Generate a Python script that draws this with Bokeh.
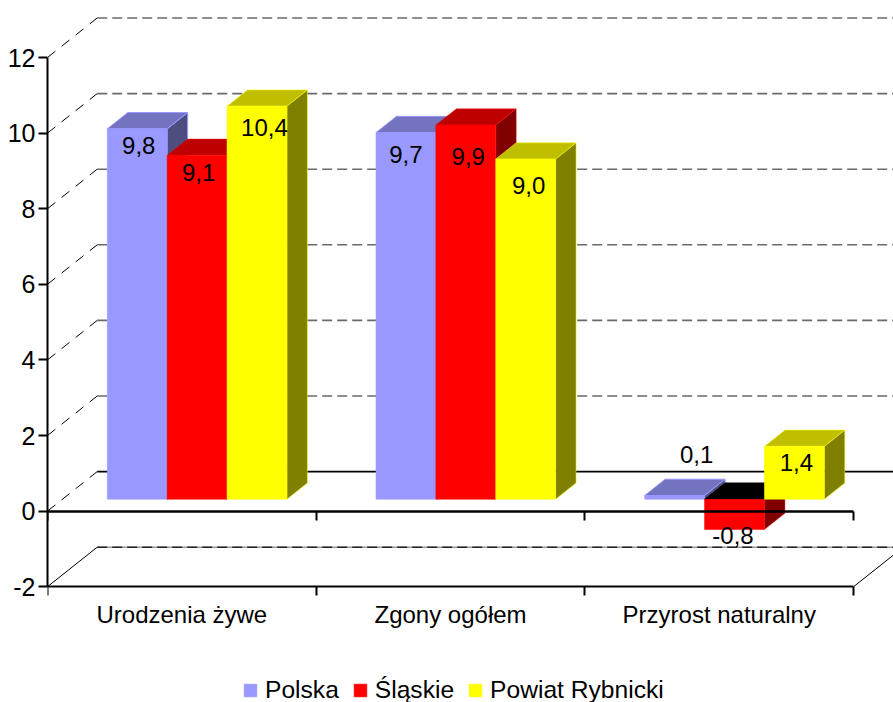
from bokeh.plotting import figure
from bokeh.embed import file_html
from bokeh.resources import INLINE
from bokeh.models import (Range1d, LinearAxis, FixedTicker, Legend, LegendItem)
from bokeh.core.properties import value

# ---- data -------------------------------------------------------------
categories = ["Urodzenia żywe", "Zgony ogółem", "Przyrost naturalny"]
series_names = ["Polska", "Śląskie", "Powiat Rybnicki"]
polska = [9.8, 9.7, 0.1]
slaskie = [9.1, 9.9, -0.8]
rybnicki = [10.4, 9.0, 1.4]
y_ticks = [-2, 0, 2, 4, 6, 8, 10, 12]

# ---- style / projection ------------------------------------------------
FONT = "Liberation Sans"
FS = "24px"
PX_X = 268.7     # px per category
PX_Y = 37.8      # px per value unit
W, H = 893, 702
FRAME_L = 47
ZERO_PX = 510.6  # height of value 0 from the canvas top
fills = ["#9999FF", "#FF0000", "#FFFF00"]
tops = ["#7373BF", "#BF0000", "#BFBF00"]
sides = ["#4D4D80", "#800000", "#808000"]
edge_alpha = [1.0, 0.35, 0.5]

WALL_DX, WALL_DY = 49.7 / PX_X, 39.5 / PX_Y   # floor depth
BAR_DX, BAR_DY = 20.5 / PX_X, 16.3 / PX_Y     # bar depth
BASE_DY = 11.8 / PX_Y                         # bar base above the axis zero
BAR_X0, BAR_W = 0.2225, 0.2228

# label nudges in px: (right, down) from the bar's front end centre
nudges = [[(1.5, 17), (1.5, 17.5), (7.5, 21)],
          [(0, 21.5), (2.5, 31.5), (3, 26.5)],
          [(22, -41.5), (-1.5, 6), (2, 16.5)]]

p = figure(width=W, height=H, output_backend="svg", toolbar_location=None,
           x_axis_type=None, y_axis_type=None,
           x_range=Range1d(0, (W - FRAME_L) / PX_X),
           y_range=Range1d(-(H - ZERO_PX) / PX_Y, ZERO_PX / PX_Y),
           min_border_left=FRAME_L, min_border_right=0, min_border_top=0,
           min_border_bottom=0, outline_line_color=None,
           background_fill_color="white", border_fill_color="white")
p.grid.visible = False

# ---- 3D walls -----------------------------------------------------------
n = len(categories)
far = n + WALL_DX
for t in y_ticks:
    # diagonal on the left wall
    p.line([0, WALL_DX], [t, t + WALL_DY], line_color="black", line_width=1,
           line_dash="solid" if t == -2 else "10 8")
    if t == 0:
        p.line([WALL_DX, far], [t + WALL_DY] * 2, line_color="black", line_width=1.6)
    elif t == -2:
        p.line([WALL_DX, far], [t + WALL_DY] * 2, line_color="#999999", line_width=1.6)
        p.line([WALL_DX, far], [t + WALL_DY] * 2, line_color="#222222", line_width=1.6,
               line_dash="10 5")
    else:
        p.line([WALL_DX, far], [t + WALL_DY] * 2, line_color="#6a6a6a", line_width=1.6,
               line_dash="10 5")
p.line([n, far], [-2, -2 + WALL_DY], line_color="black", line_width=1)

# ---- bars ---------------------------------------------------------------
all_series = [polska, slaskie, rybnicki]
first_fronts = [None, None, None]
labels_x, labels_y, labels_t, labels_dx, labels_dy = [], [], [], [], []
for c in range(n):
    for s, vals in enumerate(all_series):
        v = vals[c]
        x0 = c + BAR_X0 + s * BAR_W
        x1 = x0 + BAR_W
        b = BASE_DY
        top = v + b
        hi = max(top, b)
        lo = min(top, b)
        kw = dict(line_color=fills[s], line_alpha=edge_alpha[s], line_width=1)
        # side
        p.patch([x1, x1 + BAR_DX, x1 + BAR_DX, x1],
                [lo, lo + BAR_DY, hi + BAR_DY, hi], fill_color=sides[s], **kw)
        # top (the inside of a negative bar is black)
        if v < 0:
            p.patch([x0, x1, x1 + BAR_DX, x0 + BAR_DX],
                    [hi, hi, hi + BAR_DY, hi + BAR_DY], fill_color="black",
                    line_color="black", line_width=1)
        else:
            p.patch([x0, x1, x1 + BAR_DX, x0 + BAR_DX],
                    [hi, hi, hi + BAR_DY, hi + BAR_DY], fill_color=tops[s], **kw)
        # front
        r = p.quad(left=x0, right=x1, bottom=lo, top=hi, fill_color=fills[s],
                   line_color=fills[s], line_width=0.5)
        if first_fronts[s] is None:
            first_fronts[s] = r
        labels_x.append((x0 + x1) / 2)
        labels_y.append(top)
        labels_t.append(f"{v:.1f}".replace(".", ","))
        labels_dx.append(nudges[c][s][0])
        labels_dy.append(nudges[c][s][1])

p.text(x=labels_x, y=labels_y, text=labels_t, x_offset=labels_dx, y_offset=labels_dy,
       text_font=value(FONT), text_font_size=FS, text_color="black",
       text_align="center", text_baseline="middle")

# ---- axes ---------------------------------------------------------------
yax = LinearAxis(ticker=FixedTicker(ticks=y_ticks), bounds=(-2, 12),
                 major_tick_out=9, major_tick_in=0, major_tick_line_width=2,
                 minor_tick_line_color=None, axis_line_width=2,
                 major_label_standoff=3, major_label_text_font=FONT,
                 major_label_text_font_size="25px", major_label_text_color="black",
                 major_label_overrides={t: str(t) for t in y_ticks})
p.add_layout(yax, "left")

centers = [i + 0.5 for i in range(n)]
edges = list(range(n + 1))
xax = LinearAxis(fixed_location=-2, ticker=FixedTicker(ticks=centers, minor_ticks=edges),
                 bounds=(0, n),
                 major_tick_line_color=None, major_tick_out=0, major_tick_in=0,
                 minor_tick_out=9, minor_tick_in=0, minor_tick_line_width=2,
                 minor_tick_line_color="black", axis_line_width=2,
                 major_label_standoff=5, major_label_text_font=FONT,
                 major_label_text_font_size=FS, major_label_text_color="black",
                 major_label_overrides={c: l for c, l in zip(centers, categories)})
p.add_layout(xax, "below")

zax = LinearAxis(fixed_location=0, ticker=FixedTicker(ticks=centers, minor_ticks=edges),
                 bounds=(0, n), major_tick_line_color=None, major_tick_out=0,
                 major_tick_in=0, minor_tick_out=9, minor_tick_in=0,
                 minor_tick_line_width=2, minor_tick_line_color="black",
                 axis_line_width=2.4, major_label_text_color=None,
                 major_label_text_font_size="0px")
p.add_layout(zax, "below")

# ---- legend -------------------------------------------------------------
legend = Legend(items=[LegendItem(label=name, renderers=[r])
                       for name, r in zip(series_names, first_fronts)],
                orientation="horizontal", location=(195, -2),
                glyph_width=16, glyph_height=16, label_standoff=7, spacing=13,
                padding=0, margin=0, border_line_color=None,
                background_fill_color=None, background_fill_alpha=0,
                label_text_font=FONT, label_text_font_size="24.6px",
                label_text_color="black")
p.add_layout(legend, "center")

open("out.html", "w").write(file_html(p, INLINE))
